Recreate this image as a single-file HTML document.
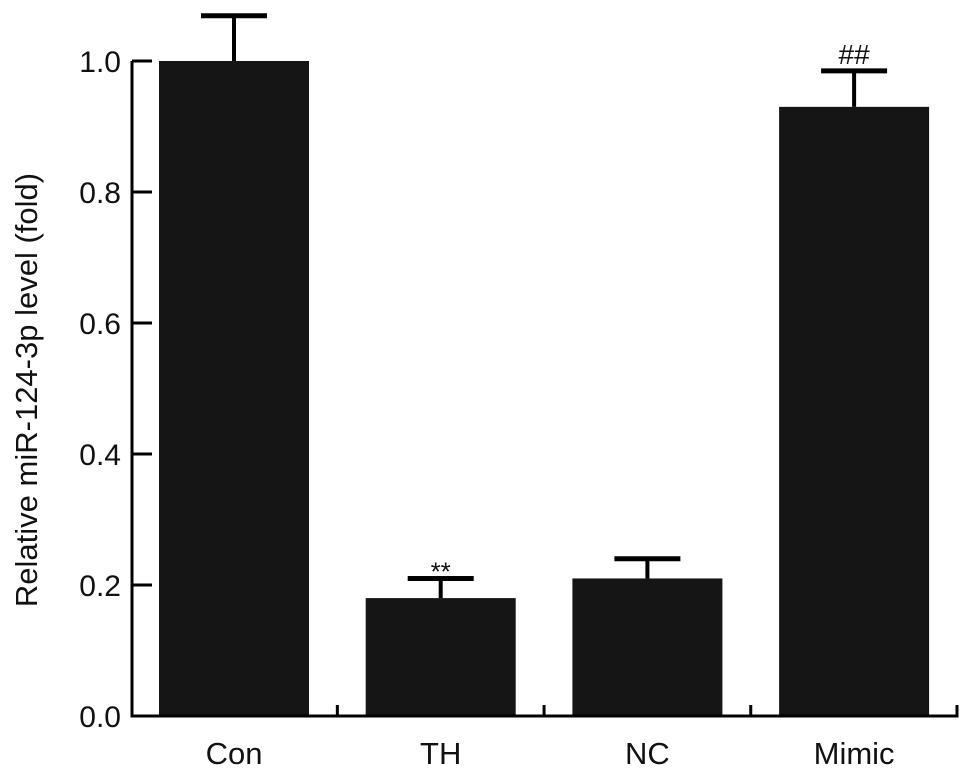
<!DOCTYPE html>
<html><head><meta charset="utf-8"><style>body{margin:0;background:#fff}svg{display:block;font-family:"Liberation Sans",Arial,sans-serif}</style></head>
<body>
<svg id="chart" width="969" height="778"></svg>
<script>
const categories=["Con","TH","NC","Mimic"];
const values=[1.0,0.18,0.21,0.93];
const errors=[0.069,0.03,0.03,0.055];
const marks=["","**","","##"];
const yTicks=[0,0.2,0.4,0.6,0.8,1.0];
const yTickLabels=["0.0","0.2","0.4","0.6","0.8","1.0"];
const NS="http://www.w3.org/2000/svg";
const svg=document.getElementById('chart');
const x0=132,step=206.7,firstC=234,bw=150,y0=716,pxPer=655;
const y=v=>y0-v*pxPer;
const xc=i=>firstC+i*step;
function mk(t,a,txt){const e=document.createElementNS(NS,t);for(const k in a)e.setAttribute(k,a[k]);if(txt!==undefined)e.textContent=txt;svg.appendChild(e);return e;}
let e;
categories.forEach((c,i)=>{
  const cx=xc(i),top=y(values[i]),et=y(values[i]+errors[i]);
  e=mk('rect',{x:cx-bw/2,y:top,width:bw,height:y0-top,fill:'#151515'});
  
  
  e=mk('line',{x1:cx,x2:cx,y1:top,y2:et,stroke:'#000','stroke-width':4});
  
  
  e=mk('line',{x1:cx-33,x2:cx+33,y1:et,y2:et,stroke:'#000','stroke-width':5});
  
  
  e=mk('text',{x:cx,y:764,'text-anchor':'middle','font-size':31,fill:'#111'},c);
  
  
  if(marks[i]){
    e=mk('text',{x:cx,y:marks[i]=='**'?et+2:et-7,'text-anchor':'middle','font-size':marks[i]=='**'?26:28,fill:'#111'},marks[i]);
    
    
  }
  if(i>0){
    const sx=(xc(i-1)+xc(i))/2;
    e=mk('line',{x1:sx,x2:sx,y1:y0,y2:y0-11,stroke:'#000','stroke-width':3});
    
    
  }
});
e=mk('path',{d:`M${x0},${y(1)} L${x0},${y0} L957,${y0} L957,${y0-11}`,fill:'none',stroke:'#000','stroke-width':3});


yTicks.forEach((t,i)=>{
  e=mk('line',{x1:x0,x2:x0+20,y1:y(t),y2:y(t),stroke:'#000','stroke-width':3});
  
  
  e=mk('text',{x:121,y:y(t)+11,'text-anchor':'end','font-size':30,fill:'#111'},yTickLabels[i]);
  
  
});
e=mk('text',{x:0,y:0,transform:'translate(37,390) rotate(-90)','text-anchor':'middle','font-size':31,fill:'#111'},'Relative miR-124-3p level (fold)');


</script>
</body></html>
